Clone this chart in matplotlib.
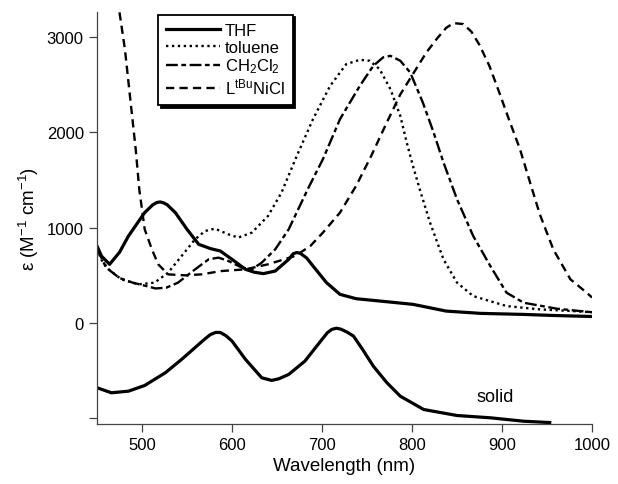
import numpy as np
import matplotlib
matplotlib.use("Agg")
import matplotlib.pyplot as plt

plt.rcParams['font.family'] = ['Liberation Sans', 'DejaVu Sans']
plt.rcParams['mathtext.fontset'] = 'custom'
plt.rcParams['mathtext.rm'] = 'Liberation Sans'
plt.rcParams['mathtext.it'] = 'Liberation Sans:italic'
plt.rcParams['mathtext.bf'] = 'Liberation Sans:bold'

# THF
thf_x = [450, 455, 464, 475, 485, 503, 512, 516, 520, 524, 528, 537, 550, 563, 576, 587, 600,
         615, 625, 635, 648, 663, 668, 672, 676, 683, 690, 705, 720, 738, 764, 801, 838,
         876, 924, 960, 1000]
thf_y = [806, 700, 614, 740, 912, 1158, 1240, 1262, 1270, 1260, 1240, 1158, 982, 824, 779, 754, 666,
         561, 530, 516, 543, 666, 725, 738, 729, 680, 596, 421, 298, 252, 228, 193, 122,
         98, 87, 75, 65]

# toluene
tol_x = [450, 455, 463, 477, 496, 514, 529, 544, 559, 570, 581, 596, 607, 622, 640,
         655, 672, 690, 709, 727, 742, 753, 764, 776, 787, 794, 801, 809, 820, 835,
         850, 868, 905, 942, 979, 1000]
tol_y = [780, 660, 561, 456, 403, 421, 526, 701, 877, 964, 989, 929, 895, 947, 1122,
         1368, 1754, 2140, 2490, 2719, 2764, 2754, 2666, 2456, 2175, 1900, 1650, 1390, 1053, 666,
         421, 280, 175, 140, 122, 110]

# CH2Cl2
dcm_x = [450, 460, 475, 490, 505, 515, 527, 540, 559, 574, 585, 596, 611, 622, 633,
         648, 663, 670, 685, 701, 720, 742, 757, 768, 776, 787, 798, 812, 824, 835,
         850, 868, 887, 905, 924, 961, 1000]
dcm_y = [780, 580, 470, 420, 385, 360, 368, 421, 561, 666, 684, 649, 579, 561, 631,
         771, 982, 1122, 1420, 1719, 2140, 2490, 2701, 2790, 2806, 2754, 2631, 2316, 2000, 1684,
         1298, 912, 596, 316, 210, 147, 110]

# LtBuNiCl
nicl_x = [468, 475, 481, 487, 493, 497, 503, 511, 518, 529, 548, 566, 588, 615, 640,
          670, 687, 701, 720, 738, 755, 772, 787, 801, 816, 828, 838, 846, 857, 866, 875,
          886, 897, 908, 920, 931, 942, 957, 976, 994, 1000]
nicl_y = [3800, 3263, 2877, 2350, 1824, 1400, 982, 771, 614, 508, 498, 508, 543, 561, 614,
          701, 806, 947, 1158, 1440, 1760, 2105, 2400, 2614, 2842, 2990, 3100, 3150, 3140, 3060, 2920,
          2700, 2420, 2130, 1824, 1480, 1140, 771, 456, 316, 265]

# solid
sol_x = [450, 466, 485, 503, 526, 544, 563, 570, 576, 582, 587, 593, 600, 615, 633, 644, 652, 663,
         681, 700, 706, 711, 716, 721, 728, 735, 745, 757, 772, 787, 813, 850, 887, 924, 953]
sol_y = [-684, -737, -720, -660, -526, -386, -228, -170, -125, -102, -103, -135, -193, -386, -579, -607, -590, -544,
         -404, -176, -105, -70, -58, -68, -100, -141, -280, -457, -630, -773, -913, -976, -1000, -1036, -1050]

xticks = [500, 600, 700, 800, 900, 1000]
yticks = [-1000, 0, 1000, 2000, 3000]
ytick_labels = ['', '0', '1000', '2000', '3000']

fig = plt.figure(figsize=(6.18, 4.85), dpi=100)
ax = fig.add_axes([97/618, 1 - 424.5/485, 495/618, (424.5 - 12.7)/485])

ax.plot(thf_x, thf_y, color='black', lw=2.3, ls='-', label='THF')
ax.plot(tol_x, tol_y, color='black', lw=1.7, ls=(0, (1, 1.5)), label='toluene')
ax.plot(dcm_x, dcm_y, color='black', lw=1.7, ls=(0, (5, 1.5, 2, 1.5)), label='CH$_2$Cl$_2$')
ax.plot(nicl_x, nicl_y, color='black', lw=1.7, ls=(0, (3.5, 2.2)), label=r'L$^{\mathrm{tBu}}$NiCl')
ax.plot(sol_x, sol_y, color='black', lw=2.3, ls='-')

ax.text(892, -773, 'solid', fontsize=13, ha='center', va='center')

ax.set_xlim(450, 1000)
ax.set_ylim(-1060, 3270)
ax.set_xticks(xticks)
ax.set_yticks(yticks)
ax.set_yticklabels(ytick_labels)
ax.tick_params(direction='out', length=6, width=0.9, color='#444444', labelsize=12)
for s in ['top', 'right']:
    ax.spines[s].set_visible(False)
for s in ['left', 'bottom']:
    ax.spines[s].set_color('#444444')
    ax.spines[s].set_linewidth(0.9)

ax.set_xlabel('Wavelength (nm)', fontsize=13.5)
ax.set_ylabel('ε (M$^{-1}$ cm$^{-1}$)', fontsize=13.5)

leg = ax.legend(loc='upper left', bbox_to_anchor=(158/618, 1 - 15.7/485),
                bbox_transform=fig.transFigure, borderaxespad=0,
                fontsize=12, frameon=True, fancybox=False,
                shadow={'color': 'black', 'alpha': 1},
                handlelength=3.2, handletextpad=0.3, labelspacing=0.1,
                borderpad=0.5, framealpha=1)
leg.get_frame().set_edgecolor('black')
leg.get_frame().set_linewidth(1.3)

fig.savefig('out.png', dpi=100)
